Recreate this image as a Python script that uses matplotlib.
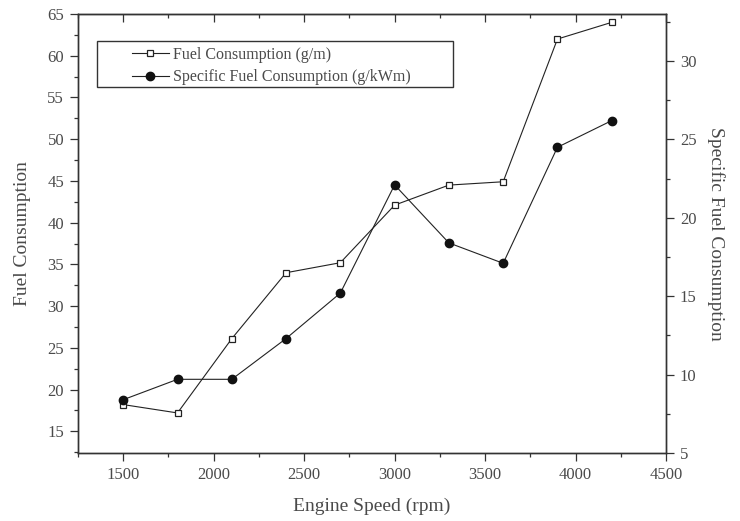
import matplotlib
matplotlib.use("Agg")
import matplotlib.pyplot as plt
from matplotlib.ticker import MultipleLocator
from matplotlib.patches import Rectangle
from matplotlib.lines import Line2D

plt.rcParams['font.family'] = ['Liberation Serif', 'DejaVu Serif']

engine_speed = [1500, 1800, 2100, 2400, 2700, 3000, 3300, 3600, 3900, 4200]
fuel_consumption = [18.2, 17.2, 26.1, 34.0, 35.2, 42.1, 44.5, 44.9, 62.0, 64.0]
specific_fuel = [8.4, 9.7, 9.7, 12.3, 15.2, 22.1, 18.4, 17.1, 24.5, 26.2]

label_fc = "Fuel Consumption (g/m)"
label_sfc = "Specific Fuel Consumption (g/kWm)"

txt = '#4a4a4a'
axc = '#333333'
lc = '#222222'

fig = plt.figure(figsize=(7.4, 5.21), dpi=100)
ax = fig.add_axes([78/740, 1-453/521, (666-78)/740, (453-14)/521])
ax2 = ax.twinx()

ax.plot(engine_speed, fuel_consumption, color=lc, lw=0.8, marker='s', ms=5,
        mfc='white', mec=lc, mew=0.9, zorder=3)
ax2.plot(engine_speed, specific_fuel, color=lc, lw=0.8, marker='o', ms=6,
         mfc='#111111', mec='#111111', zorder=3)

ax.set_xlim(1250, 4500)
ax.set_ylim(12.4, 65)
ax2.set_ylim(5, 33)

ax.xaxis.set_major_locator(MultipleLocator(500))
ax.xaxis.set_minor_locator(MultipleLocator(250))
ax.yaxis.set_major_locator(MultipleLocator(5))
ax.yaxis.set_minor_locator(MultipleLocator(2.5))
ax2.yaxis.set_major_locator(MultipleLocator(5))
ax2.yaxis.set_minor_locator(MultipleLocator(2.5))

for a in (ax, ax2):
    for s in a.spines.values():
        s.set_color(axc)
        s.set_linewidth(1.0)
    a.tick_params(which='major', direction='out', length=6, width=0.9,
                  color=axc, labelsize=12, labelcolor=txt, pad=4)
    a.tick_params(which='minor', direction='out', length=3, width=0.9, color=axc)

ax.tick_params(axis='x', which='both', top=False)
sec = ax.secondary_xaxis('top')
sec.xaxis.set_major_locator(MultipleLocator(500))
sec.xaxis.set_minor_locator(MultipleLocator(250))
sec.tick_params(which='major', direction='in', length=6, width=0.9, color=axc, labeltop=False)
sec.tick_params(which='minor', direction='in', length=3, width=0.9, color=axc)
sec.spines['top'].set_color(axc)

ax.set_xlabel("Engine Speed (rpm)", fontsize=14, color=txt, labelpad=11)
ax.set_ylabel("Fuel Consumption", fontsize=14, color=txt, labelpad=12)
ax2.set_ylabel("Specific Fuel Consumption", fontsize=14, color=txt,
               rotation=270, labelpad=20)

# legend frame
W, H = 588, 439
ax2.add_patch(Rectangle(((97-78)/W, 1-(87-14)/H), (453-97)/W, (87-41)/H,
                        transform=ax2.transAxes, fill=False, edgecolor=axc,
                        lw=1.0, zorder=5, clip_on=False))
h1 = Line2D([], [], color=lc, lw=0.8, marker='s', ms=4.5, mfc='white', mec=lc, mew=0.9)
h2 = Line2D([], [], color=lc, lw=0.8, marker='o', ms=6, mfc='#111111', mec='#111111')
leg = ax2.legend([h1, h2], [label_fc, label_sfc], loc='upper left',
                 bbox_to_anchor=((132-78)/W, 1-(47-14)/H), frameon=False,
                 borderpad=0, borderaxespad=0, handlelength=2.3, handletextpad=0.25,
                 labelspacing=0.4, fontsize=11.5, labelcolor=txt)

fig.savefig("out.png", dpi=100)
